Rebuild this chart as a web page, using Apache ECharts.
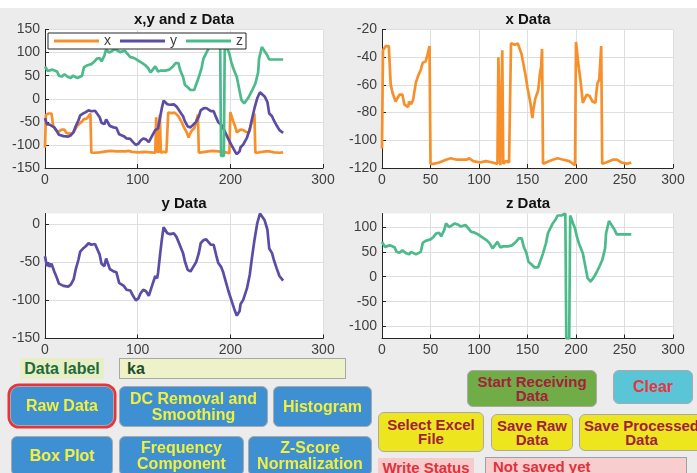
<!DOCTYPE html>
<html>
<head>
<meta charset="utf-8">
<script src="https://cdn.jsdelivr.net/npm/echarts@6/dist/echarts.min.js"></script>
<style>
  html, body { margin: 0; padding: 0; }
  body { width: 697px; height: 473px; overflow: hidden; background: #ececec; position: relative;
         font-family: "Liberation Sans", Arial, sans-serif; }
  #topband { position: absolute; left: 0; top: 0; width: 697px; height: 8px; background: #ffffff; }
  #chart { position: absolute; left: 0; top: 0; width: 697px; height: 473px; }
  .ctl { position: absolute; box-sizing: border-box; display: flex; align-items: center; justify-content: center;
         text-align: center; font-weight: bold; font-size: 15px; line-height: 14px; }
  .btn { border-radius: 6px; border: 1px solid #a9a9a9; }
  .blue { background: #3e90d2; color: #f2f03c; font-size: 16px; line-height: 16px; }
  .yellow { background: #ede61f; color: #a3203c; }
  .lbl { justify-content: flex-start; padding-left: 7px; }
</style>
</head>
<body>
<div id="topband"></div>
<div id="chart"></div>

<!-- control panel -->
<div class="ctl" style="left:20px;top:358px;width:84px;height:21px;background:#e8efc6;color:#216b3b;font-size:16px;">Data label</div>
<div class="ctl lbl" style="left:119px;top:358px;width:227px;height:21px;background:#eef2c9;border:1px solid #a8a8a8;color:#1e4d2c;font-size:16px;">ka</div>

<div class="ctl btn blue" style="left:10px;top:386px;width:104px;height:40px;box-shadow:0 0 0 2.5px #e8333b;border-radius:9px;">Raw Data</div>
<div class="ctl btn blue" style="left:119px;top:386px;width:149px;height:41px;">DC Removal and<br>Smoothing</div>
<div class="ctl btn blue" style="left:273px;top:386px;width:99px;height:41px;">Histogram</div>
<div class="ctl btn blue" style="left:11px;top:436px;width:102px;height:40px;">Box Plot</div>
<div class="ctl btn blue" style="left:119px;top:436px;width:125px;height:40px;">Frequency<br>Component</div>
<div class="ctl btn blue" style="left:248px;top:436px;width:124px;height:40px;">Z-Score<br>Normalization</div>

<div class="ctl btn" style="left:467px;top:370px;width:130px;height:37px;background:#70ad47;color:#a3213d;">Start Receiving<br>Data</div>
<div class="ctl btn" style="left:613px;top:370px;width:80px;height:34px;background:#5bc5d8;color:#e8353f;font-size:16px;">Clear</div>
<div class="ctl btn yellow" style="left:378px;top:412px;width:106px;height:40px;">Select Excel<br>File</div>
<div class="ctl btn yellow" style="left:491px;top:414px;width:82px;height:37px;">Save Raw<br>Data</div>
<div class="ctl btn yellow" style="left:579px;top:414px;width:125px;height:37px;">Save Processed<br>Data</div>

<div class="ctl" style="left:378px;top:458px;width:96px;height:20px;background:#f7cbcb;color:#e2313a;">Write Status</div>
<div class="ctl lbl" style="left:485px;top:457px;width:202px;height:20px;background:#f8cdcd;border:1px solid #a0a0a0;color:#e2313a;">Not saved yet</div>

<script>
// Accelerometer samples: sample index and value for each axis
const xIdx = [0,1,3,4,7,9,11,14,16,18,21,23,27,28,30,32,35,37,40,42,45,47,49,50,53,59,66,71,77,87,90,94,101,107,114,119,120,122,124,125,128,131,132,133,137,140,144,145,148,150,153,155,156,158,161,163,164,165,166,169,176,181,187,193,199,200,202,203,205,207,209,211,214,217,220,222,224,226,227,231,238,242,247,253,257];
const xVal = [-106,-35,-35,-32,-32,-60,-66,-72,-71,-67,-67,-74,-76,-72,-74,-71,-58,-54,-49,-44,-43,-38,-32,-117,-117,-116,-114,-113,-114,-114,-113,-115,-116,-115,-116,-117,-40,-118,-35,-117,-115,-116,-117,-30,-31,-30,-38,-42,-53,-62,-73,-84,-78,-70,-64,-51,-47,-34,-117,-116,-114,-113,-114,-115,-118,-29,-42,-48,-59,-73,-74,-67,-68,-72,-73,-59,-56,-32,-117,-116,-114,-114,-116,-117,-116];

const yIdx = [0,2,4,5,7,10,13,15,20,25,28,31,33,36,38,41,44,47,50,54,56,59,61,64,66,68,70,74,77,80,85,88,92,95,98,101,103,106,109,112,113,116,119,121,122,124,126,128,130,132,135,139,142,146,149,151,154,157,160,163,166,168,171,174,176,179,182,185,187,190,192,195,198,202,205,207,210,211,214,218,221,223,226,229,232,234,237,240,242,245,247,250,253,257];
const yVal = [-42,-55,-51,-56,-52,-62,-71,-78,-81,-82,-79,-72,-60,-47,-36,-32,-29,-25,-27,-26,-26,-40,-52,-55,-45,-46,-59,-62,-63,-77,-81,-86,-87,-94,-100,-97,-91,-86,-88,-94,-94,-79,-68,-71,-64,-42,-21,-4,-3,-12,-13,-12,-17,-29,-38,-49,-60,-62,-56,-50,-38,-25,-21,-20,-23,-27,-27,-42,-51,-56,-62,-75,-88,-103,-114,-120,-114,-105,-99,-84,-66,-47,-21,1,14,13,5,-7,-32,-38,-47,-58,-68,-74];

const zIdx = [0,2,3,5,8,10,13,15,18,21,23,25,28,30,32,35,37,40,42,45,47,50,53,56,59,61,64,66,67,69,72,75,78,81,83,86,89,92,95,99,102,105,108,111,114,116,119,121,122,125,127,130,132,134,136,138,141,144,146,149,151,154,156,157,161,163,166,169,171,173,176,179,181,185,187,189,190,192,193,194,195,197,199,201,203,205,207,210,212,215,217,219,222,224,227,230,231,234,236,239,242,247,252,257];
const zVal = [70,72,60,57,63,67,59,50,48,53,53,47,45,50,51,45,48,50,68,72,70,75,80,87,88,81,93,107,110,100,103,107,105,101,105,104,97,90,89,85,81,77,73,67,57,55,70,73,59,61,59,61,60,63,61,70,77,77,61,47,30,25,27,19,19,23,47,67,87,95,107,115,123,123,125,127,-124,-122,-124,123,120,107,97,80,67,57,47,17,-3,-10,-8,1,12,20,33,57,87,112,110,97,85,85,85,85];

// Axis limits and tick labels of the four panels
const xTicksWide = [0, 100, 200, 300];
const xTicksFine = [0, 50, 100, 150, 200, 250, 300];
const yTicksAll = [-150, -100, -50, 0, 50, 100, 150];
const yTicksX = [-120, -100, -80, -60, -40, -20];
const yTicksY = [-150, -100, -50, 0];
const yTicksZ = [-100, -50, 0, 50, 100];
const limY = [-150, 14];
const limZ = [-124, 127];

const titles = ['x,y and z Data', 'x Data', 'y Data', 'z Data'];
const seriesNames = ['x', 'y', 'z'];
const colors = { x: '#f7902b', y: '#5b4ca6', z: '#4cbb8b' };

const pairs = (idx, val) => idx.map((t, i) => [t, val[i]]);
const xData = pairs(xIdx, xVal);
const yData = pairs(yIdx, yVal);
const zData = pairs(zIdx, zVal);

const grids = [
  { left: 45, top: 29.5, width: 278, height: 138.5 },
  { left: 382, top: 29.5, width: 291, height: 138.5 },
  { left: 45, top: 213.5, width: 278, height: 125 },
  { left: 382, top: 213.5, width: 291, height: 125 }
];

const axisColor = '#262626';
const labelColor = '#3f3f3f';
const gridColor = '#dedede';
const fontFamily = 'Liberation Sans, Arial, sans-serif';

function valueAxis(gridIndex, min, max, ticks, horizontal) {
  return {
    type: 'value', gridIndex, min, max,
    axisLine: { show: true, onZero: false, lineStyle: { color: axisColor, width: 1 } },
    axisTick: { show: true, inside: true, length: 4, customValues: ticks, lineStyle: { color: axisColor } },
    axisLabel: { customValues: ticks, color: labelColor, fontSize: 14, margin: horizontal ? 5 : 5, fontFamily },
    splitLine: { show: true, lineStyle: { color: gridColor, width: 1 } }
  };
}

const xAxes = [
  valueAxis(0, 0, 300, xTicksWide, true),
  valueAxis(1, 0, 300, xTicksFine, true),
  valueAxis(2, 0, 300, xTicksWide, true),
  valueAxis(3, 0, 300, xTicksFine, true)
];
const yAxes = [
  valueAxis(0, -150, 150, yTicksAll, false),
  valueAxis(1, -120, -20, yTicksX, false),
  valueAxis(2, limY[0], limY[1], yTicksY, false),
  valueAxis(3, limZ[0], limZ[1], yTicksZ, false)
];

const titleCenters = [[184, 12], [528, 12], [184, 196], [528, 196]];

function lineSeries(name, data, color, axis) {
  return {
    name, type: 'line', data, xAxisIndex: axis, yAxisIndex: axis,
    showSymbol: false, symbol: 'none', animation: false,
    lineStyle: { color, width: 2.7 }, itemStyle: { color }
  };
}

const chart = echarts.init(document.getElementById('chart'), null, { renderer: 'canvas' });
chart.setOption({
  animation: false,
  backgroundColor: 'transparent',
  title: titles.map((t, i) => ({
    text: t, left: titleCenters[i][0], top: titleCenters[i][1], textAlign: 'center', padding: 0,
    textStyle: { fontSize: 15, fontWeight: 'bold', color: '#111', fontFamily }
  })),
  legend: {
    data: seriesNames, left: 48, top: 33, orient: 'horizontal',
    backgroundColor: '#ffffff', borderColor: '#262626', borderWidth: 1, borderRadius: 0,
    padding: [1, 3, 1, 6], itemGap: 9, itemWidth: 45, itemHeight: 3, icon: 'rect',
    textStyle: { color: labelColor, fontSize: 14, fontFamily },
    selectedMode: false
  },
  grid: grids.map(g => Object.assign({ backgroundColor: '#ffffff', show: true, borderWidth: 0 }, g)),
  xAxis: xAxes,
  yAxis: yAxes,
  series: [
    lineSeries('x', xData, colors.x, 0),
    lineSeries('y', yData, colors.y, 0),
    lineSeries('z', zData, colors.z, 0),
    lineSeries('x samples', xData, colors.x, 1),
    lineSeries('y samples', yData, colors.y, 2),
    lineSeries('z samples', zData, colors.z, 3)
  ]
});
</script>
</body>
</html>
